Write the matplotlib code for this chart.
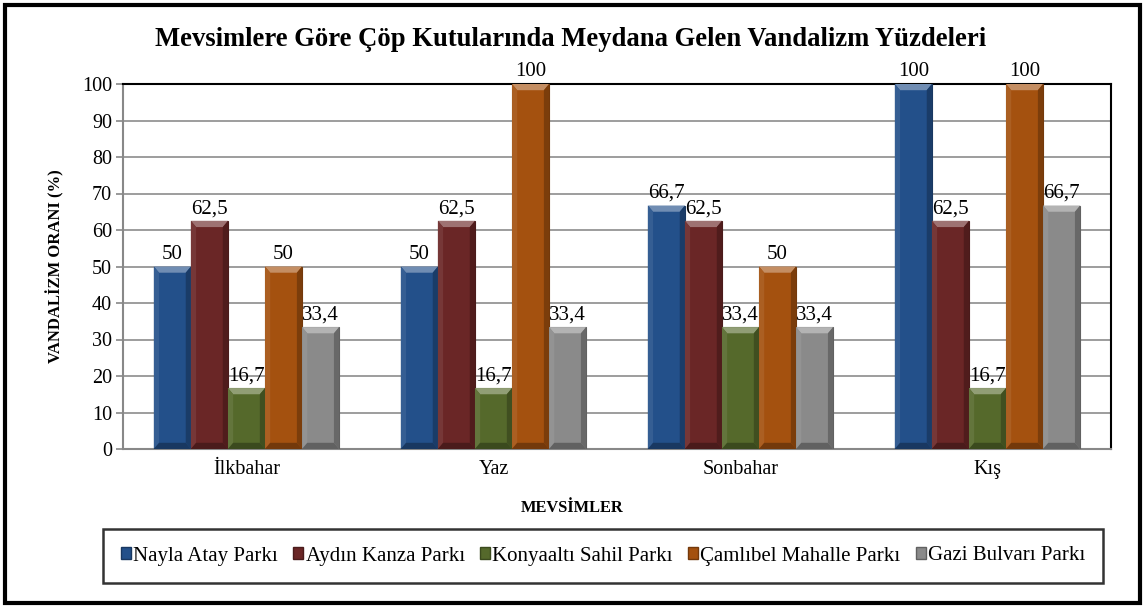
import matplotlib
matplotlib.use("Agg")
import matplotlib.pyplot as plt
import numpy as np
from matplotlib.patches import Rectangle, Polygon, Patch
from matplotlib.colors import to_rgb
from matplotlib.font_manager import FontProperties

plt.rcParams['font.family'] = ['Liberation Serif', 'DejaVu Serif']

seasons = ["İlkbahar", "Yaz", "Sonbahar", "Kış"]
parks = ["Nayla Atay Parkı", "Aydın Kanza Parkı", "Konyaaltı Sahil Parkı",
         "Çamlıbel Mahalle Parkı", "Gazi Bulvarı Parkı"]
nayla = [50, 50, 66.7, 100]
aydin = [62.5, 62.5, 62.5, 62.5]
konyaalti = [16.7, 16.7, 33.4, 16.7]
camlibel = [50, 100, 50, 100]
gazi = [33.4, 33.4, 33.4, 66.7]
series = [nayla, aydin, konyaalti, camlibel, gazi]
colors = ["#23508a", "#6a2626", "#55692b", "#a4510f", "#8a8a8a"]
yticks = list(range(0, 101, 10))

def mix(c, t, f):
    c = np.array(to_rgb(c)); t = np.array(to_rgb(t))
    return tuple(c * (1 - f) + t * f)

fig = plt.figure(figsize=(11.47, 6.08), dpi=100)
ax = fig.add_axes([123/1147, 1-449/608, 988/1147, 365/608])

n = len(series)
bw = 0.75 / n
x = np.arange(len(seasons))
for i, (vals, col) in enumerate(zip(series, colors)):
    offs = x - 0.375 + bw * (i + 0.5)
    bars = ax.bar(offs, vals, width=bw, color=col, edgecolor=mix(col, 'black', 0.3),
                  linewidth=0.8, zorder=3)
    for b, v in zip(bars, vals):
        x0, w, h = b.get_x(), b.get_width(), b.get_height()
        bx = w * 0.14
        by = min(h * 0.3, 1.7)
        ax.add_patch(Polygon([(x0, h), (x0 + w, h), (x0 + w - bx, h - by), (x0 + bx, h - by)],
                             closed=True, facecolor=mix(col, 'white', 0.35), edgecolor='none', zorder=4))
        ax.add_patch(Polygon([(x0, 0), (x0, h), (x0 + bx, h - by), (x0 + bx, by)],
                             closed=True, facecolor=mix(col, 'white', 0.08), edgecolor='none', zorder=4))
        ax.add_patch(Polygon([(x0 + w, 0), (x0 + w, h), (x0 + w - bx, h - by), (x0 + w - bx, by)],
                             closed=True, facecolor=mix(col, 'black', 0.25), edgecolor='none', zorder=4))
        ax.add_patch(Polygon([(x0, 0), (x0 + w, 0), (x0 + w - bx, by), (x0 + bx, by)],
                             closed=True, facecolor=mix(col, 'black', 0.3), edgecolor='none', zorder=4))
        lab = ("%g" % v).replace(".", ",")
        ax.text(x0 + w / 2, h + 0.7, lab, ha='center', va='bottom', fontsize=15, zorder=6)

ax.set_xlim(-0.5, len(seasons) - 0.5)
ax.set_ylim(0, 100)
ax.set_yticks(yticks)
ax.set_yticklabels([str(t) for t in yticks], fontsize=14.5)
ax.set_xticks(x)
ax.set_xticklabels(seasons, fontsize=14.5)
ax.tick_params(axis='x', length=0, pad=8)
ax.tick_params(axis='y', length=5, color='#888888', width=1.2, pad=3)
ax.yaxis.grid(True, color='#8c8c8c', linewidth=1.2, zorder=0)
ax.set_axisbelow(True)
for s in ['left', 'bottom']:
    ax.spines[s].set_color('#888888')
    ax.spines[s].set_linewidth(1.5)
for s in ['top', 'right']:
    ax.spines[s].set_color('black')
    ax.spines[s].set_linewidth(1.5)

ax.set_ylabel("VANDALİZM ORANI (%)", fontsize=12, fontweight='bold')
ax.yaxis.set_label_coords(-59/988, 0.5)
fig.text(572/1147, 1-512/608, "MEVSİMLER", ha='center', va='baseline', fontsize=11.8, fontweight='bold')
fig.text(571/1147, 1-46/608, "Mevsimlere Göre Çöp Kutularında Meydana Gelen Vandalizm Yüzdeleri",
         ha='center', va='baseline', fontsize=19.2, fontweight='bold')

handles = [Patch(facecolor=c, edgecolor=mix(c, 'black', 0.3)) for c in colors]
leg = fig.legend(handles, parks, loc='center', bbox_to_anchor=(103/1147, 1-588/608, 1000/1147, 64/608),
                 mode='expand', ncol=5, prop=FontProperties(family='Liberation Serif', size=15),
                 frameon=True, fancybox=False, handlelength=0.5, handleheight=0.5,
                 handletextpad=0.1, columnspacing=0.5, borderpad=0.85, borderaxespad=0)
leg.get_frame().set_edgecolor('black')
leg.get_frame().set_linewidth(1.8)

fig.patches.append(Rectangle((5/1147, 5/608), 1135/1147, 598/608, transform=fig.transFigure,
                             fill=False, edgecolor='black', linewidth=3))

fig.savefig("out.png", dpi=100)
